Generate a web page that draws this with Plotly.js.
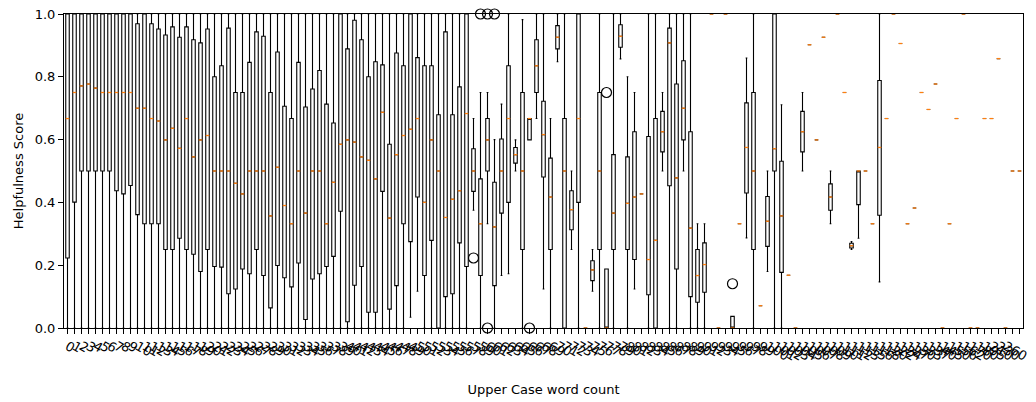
<!DOCTYPE html>
<html>
<head>
<meta charset="utf-8">
<script src="https://cdn.plot.ly/plotly-3.0.1.min.js"></script>
<style>html,body{margin:0;padding:0;background:#fff;}#chart{width:1036px;height:402px;}</style>
</head>
<body>
<div id="chart"></div>
<script>
// Category tick labels (Upper Case word count values)
const categories = [
"0","1","2","3","4","5","6","7","8","9","10","11","12","13","14","15","16","17","18","19",
"20","21","22","23","24","25","26","27","28","29","30","31","32","33","34","35","36","37","38","39",
"40","41","42","43","44","45","46","47","48","49","50","51","52","53","54","55","56","57","58","59",
"60","61","62","63","64","65","66","67","68","69","70","71","72","73","74","75","76","77","78","79",
"80","81","82","83","84","85","86","87","88","89","90","91","92","93","94","95","96","97","98","99",
"100","101","102","103","104","105","106","107","108","109","110","111","112","113","115","116","118","120","122","124",
"127","130","133","137","140","145","150","156","162","170","180","195","210","230","260","313","680"];

// Box statistics per category (Helpfulness Score)
const lowerWhisker = [
0,0,0,0,0,0,0,0,0,0, 0,0,0,0,0,0,0,0,0,0, 0,0,0,0,0,0,0,0,0,0,
0,0,0,0,0,0,0,0,0,0, 0,0,0,0,0,0,0,0,0,0.034, 0.117,0,0,0,0,0,0,0,0.375,0,
0.332,0,0.167,0.173,0.5,0,0.599,0.667,0.124,0, 0.848,0,0.25,0,0,0.117,0,0,0,0.857,
0,0.124,0.427,0,0,0.5,0,0,0.5,0, 0,0,1,0,1,0,0.332,0.287,0,0.071,
0.18,0,0,0.168,0,0.5,0.902,0.599,0.926,0.332, 1,0.75,0.25,0.286,0.5,0.332,0.147,0.667,1,0.906,
0.332,0.382,0.75,0.696,0.777,0,0.332,0.667,1,0, 0,0.667,0.667,0.858,0,0.5,0.5];
const q1 = [
0.223,0.401,0.5,0.5,0.5,0.5,0.5,0.437,0.427,0.454, 0.361,0.332,0.332,0.332,0.25,0.25,0.286,0.25,0.235,0.18,
0.25,0.196,0.194,0.109,0.124,0.188,0.173,0.25,0.167,0.064, 0.199,0.16,0.131,0.207,0.027,0.156,0.173,0.196,0.228,0.372,
0.02,0.136,0.196,0.05,0.05,0.435,0.06,0.135,0.332,0.275, 0.417,0.167,0.279,0,0.1,0.109,0.271,0.196,0.435,0.167,
0.5,0.135,0.366,0.4,0.525,0.25,0.599,0.75,0.481,0.25, 0.889,0,0.313,0.4,0,0.151,0.25,0,0.25,0.894,
0.25,0.218,0.427,0.106,0,0.561,0.453,0.188,0.599,0.1, 0.082,0.114,1,0,1,0,0.332,0.43,0.25,0.071,
0.26,0.5,0.177,0.168,0,0.561,0.902,0.599,0.926,0.375, 1,0.75,0.255,0.393,0.5,0.332,0.359,0.667,1,0.906,
0.332,0.382,0.75,0.696,0.777,0,0.332,0.667,1,0, 0,0.667,0.667,0.858,0,0.5,0.5];
const medians = [
0.667,0.75,0.771,0.777,0.764,0.75,0.75,0.75,0.75,0.75, 0.7,0.7,0.667,0.659,0.599,0.636,0.572,0.667,0.545,0.599,
0.613,0.5,0.5,0.5,0.461,0.427,0.5,0.5,0.5,0.357, 0.512,0.39,0.332,0.5,0.366,0.5,0.5,0.332,0.464,0.585,
0.599,0.592,0.545,0.534,0.475,0.687,0.35,0.552,0.613,0.633, 0.667,0.4,0.599,0.5,0.352,0.41,0.437,0.683,0.5,0.332,
0.599,0.322,0.5,0.667,0.552,0.5,0.667,0.835,0.616,0.417, 0.926,0.5,0.377,0.667,0,0.185,0.5,0,0.366,0.929,
0.397,0.417,0.427,0.218,0.279,0.625,0.908,0.478,0.7,0.318, 0.167,0.202,1,0,1,0,0.332,0.575,0.5,0.071,
0.34,0.571,0.357,0.168,0,0.625,0.902,0.599,0.926,0.417, 1,0.75,0.262,0.5,0.5,0.332,0.575,0.667,1,0.906,
0.332,0.382,0.75,0.696,0.777,0,0.332,0.667,1,0, 0,0.667,0.667,0.858,0,0.5,0.5];
const q3 = [
1,1,1,1,1,1,1,1,1,1, 0.969,1,0.969,0.952,0.933,0.959,0.926,0.959,0.918,0.908,
0.952,0.8,0.835,0.955,0.75,0.75,0.846,0.943,0.929,0.75, 0.879,0.706,0.667,0.846,0.704,0.761,0.82,0.713,0.653,1,
0.889,0.98,0.918,0.8,0.848,0.838,0.585,0.876,0.835,1, 0.861,0.835,0.835,0.679,0.943,0.679,0.768,1,0.571,0.475,
0.667,0.464,0.602,0.835,0.575,0.75,0.667,0.918,0.722,0.541, 0.963,0.667,0.437,1,0,0.214,0.75,0.188,0.552,0.966,
0.545,0.625,0.427,0.61,0.667,0.69,0.955,0.777,0.851,0.625, 0.25,0.271,1,0,1,0.037,0.332,0.717,0.75,0.071,
0.419,1,0.531,0.168,0,0.69,0.902,0.599,0.926,0.459, 1,0.75,0.27,0.5,0.5,0.332,0.788,0.667,1,0.906,
0.332,0.382,0.75,0.696,0.777,0,0.332,0.667,1,0, 0,0.667,0.667,0.858,0,0.5,0.5];
const upperWhisker = [
1,1,1,1,1,1,1,1,1,1, 1,1,1,1,1,1,1,1,1,1, 1,1,1,1,1,1,1,1,1,1,
1,1,1,1,1,1,1,1,1,1, 1,1,1,1,1,1,1,1,1,1, 1,1,1,1,1,1,1,1,0.667,0.75,
0.75,0.6,0.713,1,0.599,0.982,0.667,1,1,0.667, 1,1,0.5,1,0,0.25,1,0.188,1,1,
0.8,0.75,0.427,1,1,0.75,1,1,1,1, 0.332,0.332,1,0,1,0.037,0.332,0.86,1,0.071,
0.5,1,0.711,0.168,0,0.75,0.902,0.599,0.926,0.5, 1,0.75,0.275,0.5,0.5,0.332,1,0.667,1,0.906,
0.332,0.382,0.75,0.696,0.777,0,0.332,0.667,1,0, 0,0.667,0.667,0.858,0,0.5,0.5];

// Outliers: category index and value
const flierIndex = [58, 59, 60, 60, 61, 66, 77, 95];
const flierValue = [0.223, 1.0, 1.0, 0.0, 1.0, 0.0, 0.75, 0.141];

const pos = categories.map((c, i) => i);

const medX = [], medY = [];
medians.forEach((m, i) => { medX.push(i - 0.25, i + 0.25, null); medY.push(m, m, null); });

const traces = [
  {
    type: 'box', x: pos, q1: q1, median: medians, q3: q3,
    lowerfence: lowerWhisker, upperfence: upperWhisker,
    boxpoints: false, width: 0.5, whiskerwidth: 0.5,
    line: {color: '#000000', width: 1.1}, fillcolor: 'rgba(0,0,0,0)',
    hoverinfo: 'skip', showlegend: false
  },
  {
    type: 'scatter', mode: 'lines', x: medX, y: medY,
    line: {color: '#ff7f0e', width: 1.3}, hoverinfo: 'skip', showlegend: false
  },
  {
    type: 'scatter', mode: 'markers', x: flierIndex, y: flierValue,
    marker: {symbol: 'circle-open', size: 10, color: '#000000', line: {width: 1.2, color: '#000000'}},
    cliponaxis: false, hoverinfo: 'skip', showlegend: false
  }
];

const layout = {
  width: 1036, height: 402,
  margin: {l: 64, r: 13, t: 14, b: 74},
  paper_bgcolor: '#ffffff', plot_bgcolor: '#ffffff',
  font: {family: 'DejaVu Sans, sans-serif', size: 13, color: '#000000'},
  showlegend: false,
  xaxis: {
    range: [-0.5, categories.length - 0.5],
    tickmode: 'array', tickvals: pos, ticktext: categories,
    tickangle: 30, tickfont: {size: 13},
    ticks: 'outside', ticklen: 5, tickwidth: 1, tickcolor: '#000000',
    showline: true, linecolor: '#000000', linewidth: 1, mirror: true,
    showgrid: false, zeroline: false,
    title: {text: 'Upper Case word count', font: {size: 13}, standoff: 22}
  },
  yaxis: {
    range: [0, 1],
    tickmode: 'array', tickvals: [0, 0.2, 0.4, 0.6, 0.8, 1.0],
    ticktext: ['0.0', '0.2', '0.4', '0.6', '0.8', '1.0'],
    ticks: 'outside', ticklen: 5, tickwidth: 1, tickcolor: '#000000',
    showline: true, linecolor: '#000000', linewidth: 1, mirror: true,
    showgrid: false, zeroline: false,
    title: {text: 'Helpfulness Score', font: {size: 13}, standoff: 8}
  }
};

Plotly.newPlot('chart', traces, layout, {displayModeBar: false, staticPlot: true});
</script>
</body>
</html>
